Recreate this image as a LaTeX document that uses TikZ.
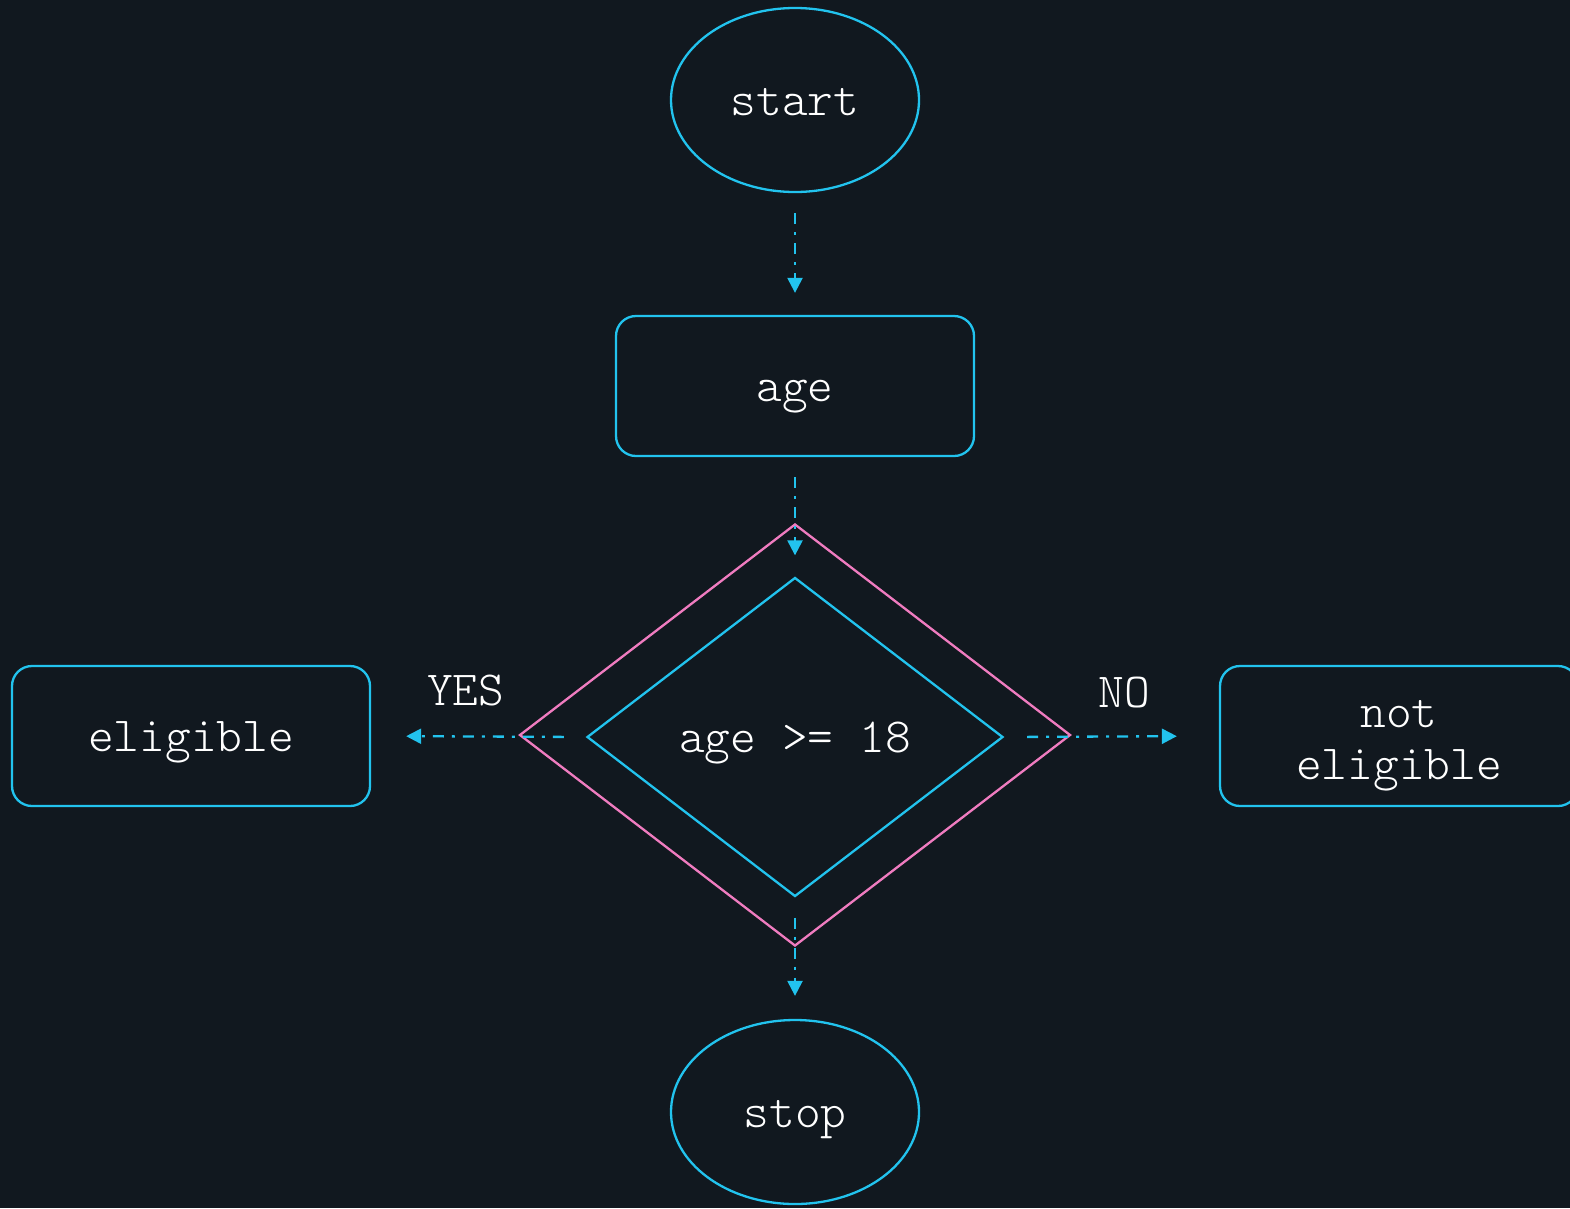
\documentclass[tikz,border=0pt]{standalone}
\usepackage{tikz}
\usetikzlibrary{positioning,shapes,arrows.meta}
\definecolor{bgdark}{HTML}{11181F}
\definecolor{cyanline}{HTML}{22C3EE}
\definecolor{pinkline}{HTML}{F07CC0}

\begin{document}
\begin{tikzpicture}[x=1pt,y=-1pt,
  every node/.style={text=white, font=\fontsize{49}{52}\selectfont\ttfamily\fontseries{l}\selectfont, text depth=0pt, text height=30pt},
  term/.style={ellipse, draw=cyanline, line width=2.3pt, minimum width=248pt, minimum height=184pt, inner sep=0pt},
  box/.style={rectangle, rounded corners=20pt, draw=cyanline, line width=2.3pt, minimum width=358pt, minimum height=140pt, inner sep=0pt, align=center},
  flow/.style={draw=cyanline, line width=2.3pt, dash pattern=on 11pt off 8pt on 3pt off 8pt,
    -{Triangle[length=15pt,width=15pt]}, shorten <=20pt, shorten >=22pt}]

% background
\useasboundingbox (0,0) rectangle (1570,1208);
\fill[bgdark] (0,0) rectangle (1570,1208);

% start and input
\node[term] (start) at (795,100) {start};
\node[box] (age) at (795,386) {age};

% decision, outer frame first
\node[diamond, draw=pinkline, line width=2.3pt, minimum width=551pt, minimum height=422pt, inner sep=0pt] (frame) at (795,735) {};
\node[diamond, draw=cyanline, line width=2.3pt, minimum width=416pt, minimum height=319pt, inner sep=0pt] (check) at (795,737) {age >= 18};

% outcomes
\node[box] (yes) at (191,736) {eligible};
\node[box, text height=86pt] (no) at (1399,736) {not\\eligible};
\node[term] (stop) at (795,1112) {stop};

% arrows
\draw[flow] (start) -- (age);
\draw[flow, shorten >=21pt] (age) -- (check);
\draw[flow, shorten <=22pt, shorten >=35pt] (check.west) -- node[pos=0.56, yshift=46pt] (yeslbl) {YES} (yes.east);
\draw[flow, shorten <=23pt, shorten >=42pt] (check.east) -- node[pos=0.56, yshift=44pt] (nolbl) {NO} (no.west);
\draw[flow, shorten >=23pt] (check) -- (stop);

\end{tikzpicture}
\end{document}
